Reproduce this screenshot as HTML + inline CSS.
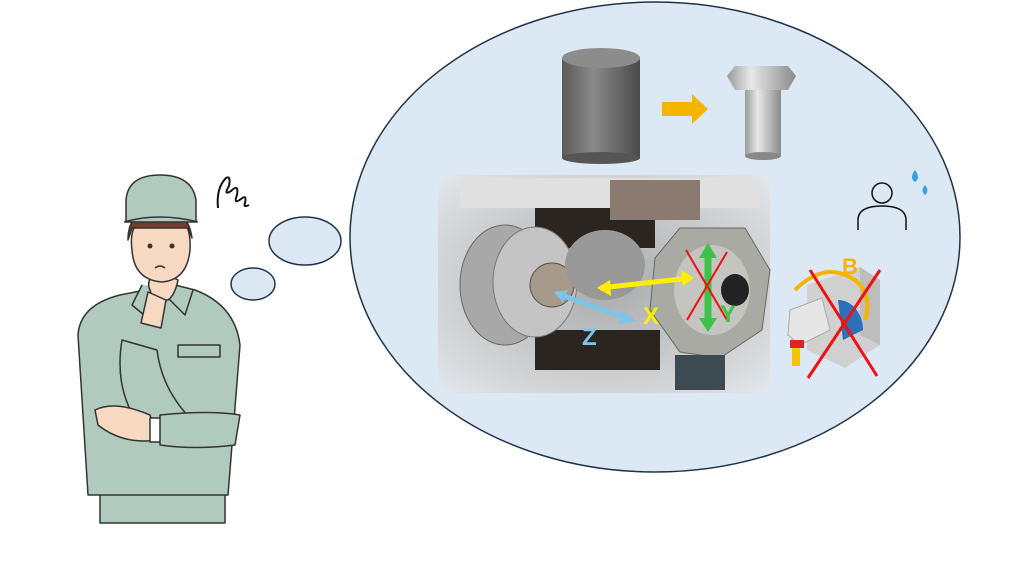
<!DOCTYPE html>
<html><head><meta charset="utf-8"><style>html,body{margin:0;padding:0;background:#fff;width:1024px;height:576px;overflow:hidden}</style></head><body>
<svg width="1024" height="576" viewBox="0 0 1024 576" xmlns="http://www.w3.org/2000/svg" font-family="Liberation Sans, sans-serif">
<defs>
<linearGradient id="cyl" x1="0" x2="1"><stop offset="0" stop-color="#5a5a5a"/><stop offset="0.4" stop-color="#8a8a8a"/><stop offset="1" stop-color="#4a4a4a"/></linearGradient>
<linearGradient id="bolt" x1="0" x2="1"><stop offset="0" stop-color="#9a9a9a"/><stop offset="0.35" stop-color="#e8e8e8"/><stop offset="1" stop-color="#8a8a8a"/></linearGradient>
<radialGradient id="photo" cx="0.5" cy="0.5" r="0.7"><stop offset="0" stop-color="#a8aaac"/><stop offset="0.75" stop-color="#d4d6d7"/><stop offset="1" stop-color="#e2e8ee"/></radialGradient>
</defs>
<ellipse cx="655" cy="237" rx="305" ry="235" fill="#dce8f4" stroke="#1f3347" stroke-width="1.5"/>
<ellipse cx="305" cy="241" rx="36" ry="24" fill="#dce8f4" stroke="#1f3347" stroke-width="1.5"/>
<ellipse cx="253" cy="284" rx="22" ry="16" fill="#dce8f4" stroke="#1f3347" stroke-width="1.5"/>
<rect x="562" y="58" width="78" height="100" fill="url(#cyl)"/>
<ellipse cx="601" cy="158" rx="39" ry="6" fill="#555"/>
<ellipse cx="601" cy="58" rx="39" ry="10" fill="#8c8c8c"/>
<polygon points="662,102 692,102 692,94 708,109 692,124 692,116 662,116" fill="#f5b400"/>
<polygon points="735,66 788,66 796,76 788,90 735,90 727,76" fill="url(#bolt)"/>
<rect x="745" y="90" width="36" height="66" fill="url(#bolt)"/>
<ellipse cx="763" cy="156" rx="18" ry="4" fill="#888"/>
<rect x="438" y="175" width="332" height="218" fill="url(#photo)"/>
<rect x="460" y="178" width="300" height="30" fill="#e0e0e0"/>
<rect x="535" y="208" width="120" height="40" fill="#2a2520"/>
<rect x="535" y="330" width="125" height="40" fill="#2a2520"/>
<ellipse cx="505" cy="285" rx="45" ry="60" fill="#a8a8a8" stroke="#666"/>
<ellipse cx="535" cy="282" rx="42" ry="55" fill="#c4c4c4" stroke="#777"/>
<ellipse cx="552" cy="285" rx="22" ry="22" fill="#a89a8a" stroke="#555"/>
<ellipse cx="605" cy="265" rx="40" ry="35" fill="#999"/>
<rect x="610" y="180" width="90" height="40" fill="#8a7a70"/>
<polygon points="680,228 745,228 770,270 762,330 720,358 680,352 650,310 655,258" fill="#aaaaa5" stroke="#666"/>
<ellipse cx="712" cy="290" rx="38" ry="45" fill="#c4c4c0"/>
<ellipse cx="735" cy="290" rx="14" ry="16" fill="#222"/>
<rect x="675" y="355" width="50" height="35" fill="#3e4a52"/>
<line x1="600" y1="288" x2="690" y2="278" stroke="#ffee00" stroke-width="5"/>
<polygon points="597,288 610,280 611,296" fill="#ffee00"/>
<polygon points="694,278 681,270 683,286" fill="#ffee00"/>
<line x1="558" y1="294" x2="632" y2="320" stroke="#7cc4e8" stroke-width="5"/>
<polygon points="554,292 568,290 563,303" fill="#7cc4e8"/>
<polygon points="636,321 622,311 619,324" fill="#7cc4e8"/>
<line x1="708" y1="250" x2="708" y2="325" stroke="#3ec24a" stroke-width="7"/>
<polygon points="708,243 699,258 717,258" fill="#3ec24a"/>
<polygon points="708,332 699,318 717,318" fill="#3ec24a"/>
<line x1="686" y1="250" x2="727" y2="320" stroke="#ee1111" stroke-width="2"/>
<line x1="727" y1="252" x2="687" y2="320" stroke="#ee1111" stroke-width="2"/>
<text x="643" y="324" font-size="24" font-weight="bold" fill="#ffee00">X</text>
<text x="720" y="322" font-size="24" font-weight="bold" fill="#3ec24a">Y</text>
<text x="582" y="345" font-size="24" font-weight="bold" fill="#7cc4e8">Z</text>
<circle cx="882" cy="193" r="10" fill="none" stroke="#111" stroke-width="1.5"/>
<path d="M858,230 v-10 q0,-14 24,-14 q24,0 24,14 v10" fill="none" stroke="#111" stroke-width="1.5"/>
<path d="M915,170 q6,8 0,12 q-6,-4 0,-12z M925,185 q5,6 0,10 q-5,-4 0,-10z" fill="#3aa0e0"/>
<polygon points="807,285 860,267 880,280 880,345 845,368 807,350" fill="#d0d0d0"/>
<polygon points="860,267 880,280 880,345 860,335" fill="#bdbdbd"/>
<path d="M838,300 a25,30 0 0 1 25,30 l-20,10z" fill="#2d6fb8"/>
<polygon points="790,310 822,298 830,330 800,345 788,335" fill="#e6e6e6" stroke="#aaa"/>
<rect x="790" y="340" width="14" height="8" fill="#dd2222"/>
<rect x="792" y="348" width="8" height="18" fill="#f2c500"/>
<path d="M795,290 q30,-30 60,-10 q18,15 10,40" fill="none" stroke="#f5b400" stroke-width="4"/>
<text x="842" y="274" font-size="22" font-weight="bold" fill="#f5b400">B</text>
<line x1="810" y1="270" x2="877" y2="376" stroke="#ee1111" stroke-width="3"/>
<line x1="880" y1="270" x2="808" y2="378" stroke="#ee1111" stroke-width="3"/>
<path d="M218,208 q-2,-20 8,-30 q5,-3 3,8 q-6,10 2,5 q8,-8 6,4 q-4,10 4,4 q6,-5 4,4 q-2,5 4,2" fill="none" stroke="#111" stroke-width="2"/>
<g stroke="#333" stroke-width="1.5" stroke-linejoin="round">
<path d="M100,523 v-30 h125 v30z" fill="#b0cbbd"/>
<path d="M120,295 q-40,10 -42,40 l10,160 h140 l12,-150 q-5,-40 -45,-55 l-20,-5 l-30,5z" fill="#b0cbbd"/>
<path d="M142,285 l-10,20 l18,15 l15,-25 l20,20 l8,-25" fill="#b0cbbd"/>
<path d="M150,290 q-5,-10 8,-20 l20,10 q-3,15 -10,20 h-15z" fill="#f6d9c0"/>
<path d="M132,250 q-5,-35 30,-40 q30,2 28,40 q-3,30 -28,32 q-28,-2 -30,-32z" fill="#f6d9c0"/>
<path d="M128,240 q0,-30 30,-32 q30,0 34,30 l-4,-10 h-56z" fill="#7a3a2a"/>
<path d="M126,200 q2,-25 34,-25 q32,0 36,25 v22 h-70z" fill="#b0cbbd"/>
<path d="M124,222 q35,-10 74,0" fill="none"/>
<path d="M122,340 q-10,60 30,100 l40,-20 q-30,-30 -35,-70z" fill="#b0cbbd"/>
<path d="M148,292 l18,8 l-5,28 l-20,-5z" fill="#f6d9c0"/>
<path d="M95,410 q20,-10 55,5 l8,25 q-35,5 -60,-15z" fill="#f6d9c0"/>
<rect x="150" y="418" width="12" height="24" fill="#fff"/>
<path d="M160,415 q50,-5 80,0 l-5,30 q-40,5 -75,0z" fill="#b0cbbd"/>
<rect x="178" y="345" width="42" height="12" fill="none"/>
</g>
<circle cx="150" cy="246" r="2.5" fill="#333"/><circle cx="172" cy="246" r="2.5" fill="#333"/>
<path d="M155,268 q5,-4 10,0" fill="none" stroke="#333" stroke-width="1.5"/>
</svg>
</body></html>
